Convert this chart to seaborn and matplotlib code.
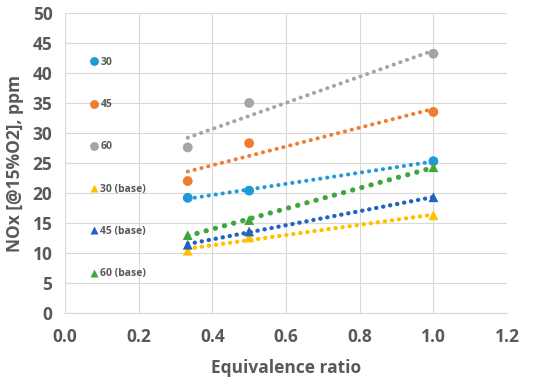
import numpy as np
import pandas as pd
import matplotlib
matplotlib.use("Agg")
import matplotlib.pyplot as plt
import seaborn as sns

# === Data ===
phi = [1/3, 0.5, 1.0]
series_names = ["30", "45", "60", "30 (base)", "45 (base)", "60 (base)"]
nox_30 = [19.2, 20.4, 25.3]
nox_45 = [22.0, 28.3, 33.5]
nox_60 = [27.6, 35.0, 43.2]
nox_30_base = [10.4, 12.6, 16.3]
nox_45_base = [11.4, 13.6, 19.3]
nox_60_base = [13.0, 15.5, 24.3]

colors = ["#1f9ad6", "#ee7d31", "#a5a5a5", "#ffc000", "#1f63c0", "#3ea63c"]
markers = ["o", "o", "o", "^", "^", "^"]
trend_lw = [2.9, 2.9, 2.9, 3.1, 3.1, 3.7]
trend_gap = [1.7, 1.7, 1.7, 1.6, 1.6, 1.8]

all_vals = [nox_30, nox_45, nox_60, nox_30_base, nox_45_base, nox_60_base]
df = pd.DataFrame({
    "phi": phi * len(series_names),
    "nox": [v for vals in all_vals for v in vals],
    "case": [n for n in series_names for _ in phi],
})

# === Plot ===
sns.set_style("white")
plt.rcParams["font.family"] = ["Open Sans", "DejaVu Sans"]
grey = "#595959"

fig = plt.figure(figsize=(5.5, 3.8), dpi=100)
ax = fig.add_axes([0.118, 0.176, 0.804, 0.79])

# dotted linear trend lines
for name, c, lw, gap in zip(series_names, colors, trend_lw, trend_gap):
    sns.regplot(data=df[df["case"] == name], x="phi", y="nox", ax=ax,
                scatter=False, ci=None, truncate=True, color=c,
                line_kws=dict(lw=lw, linestyle=(0, (0.05, gap)),
                              dash_capstyle="round"))

sns.scatterplot(data=df, x="phi", y="nox", hue="case", style="case",
                hue_order=series_names, style_order=series_names,
                palette=dict(zip(series_names, colors)),
                markers=dict(zip(series_names, markers)),
                s=50, edgecolor="none", ax=ax, zorder=5)

ax.set_xlim(0, 1.2)
ax.set_ylim(0, 50)
ax.set_xticks(np.arange(0, 1.21, 0.2))
ax.set_yticks(np.arange(0, 51, 5))
ax.set_xticklabels([f"{t:.1f}" for t in np.arange(0, 1.21, 0.2)])
ax.grid(True, color="#d9d9d9", lw=0.8)
ax.set_axisbelow(True)
for s in ax.spines.values():
    s.set_visible(False)
ax.spines["bottom"].set_visible(True)
ax.spines["bottom"].set_color("#d9d9d9")
ax.tick_params(length=0, labelsize=12.5, labelcolor=grey)
ax.tick_params(axis="y", pad=9)
ax.tick_params(axis="x", pad=11)
for lab in ax.get_xticklabels() + ax.get_yticklabels():
    lab.set_fontweight("bold")

ax.set_xlabel("Equivalence ratio", fontsize=12.5, fontweight="bold", color=grey, labelpad=9)
ax.set_ylabel("NOx [@15%O2], ppm", fontsize=12.5, fontweight="bold", color=grey, labelpad=6)

leg = ax.legend(loc="center left", bbox_to_anchor=(0.045, 0.483),
                frameon=False, fontsize=7.5, labelspacing=3.0,
                handlelength=0.8, handletextpad=0.2, borderpad=0,
                markerscale=0.9)
for t in leg.get_texts():
    t.set_color(grey)
    t.set_fontweight("bold")

fig.savefig("out.png", dpi=100)
